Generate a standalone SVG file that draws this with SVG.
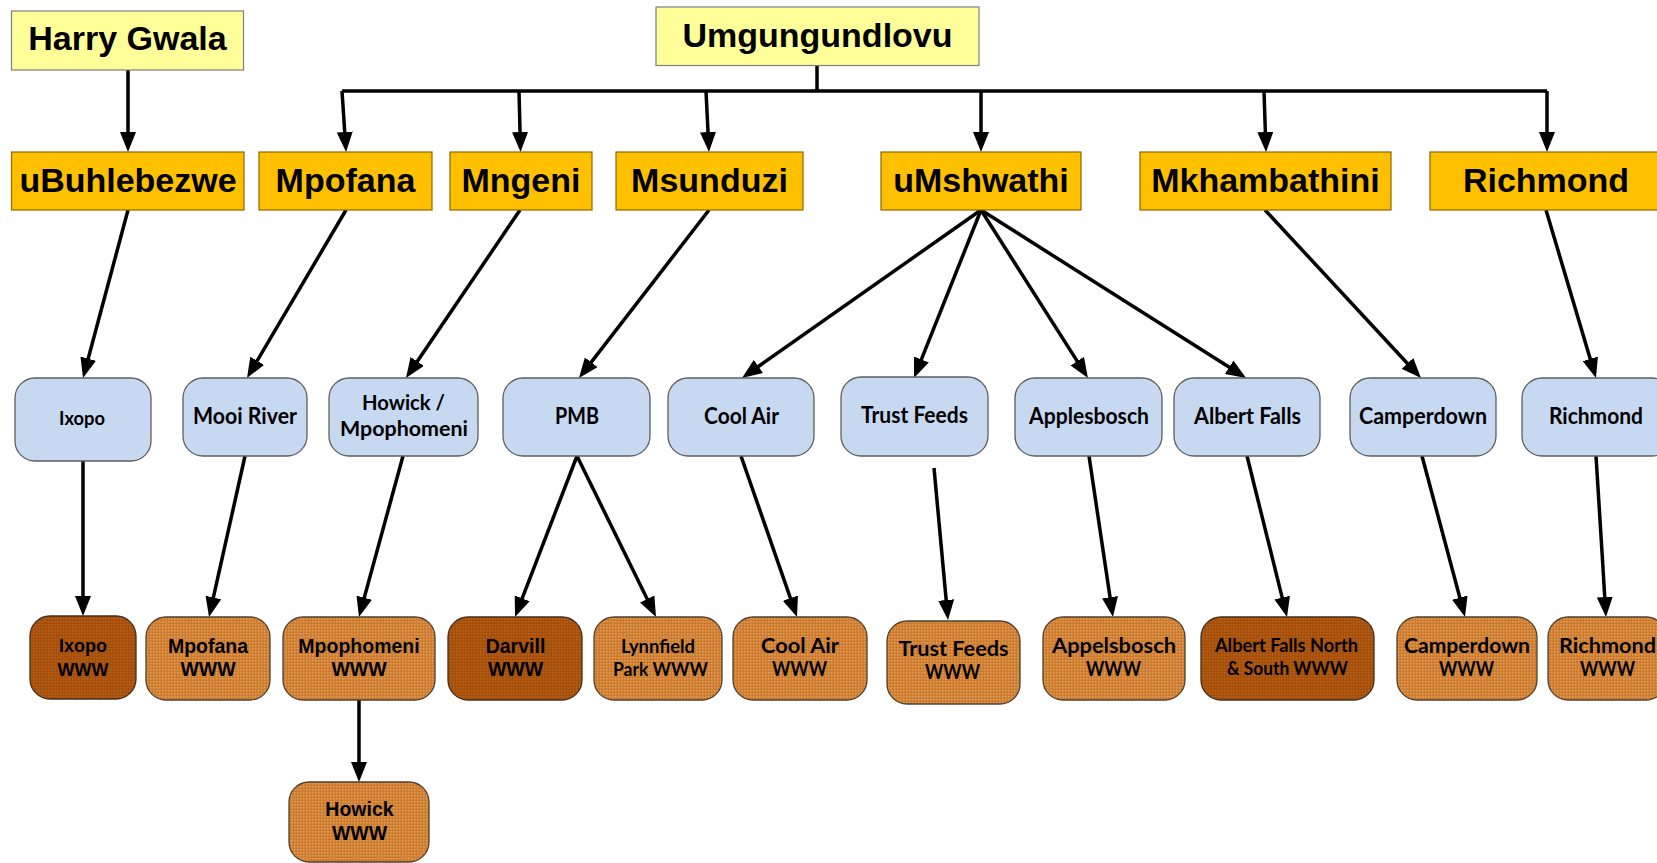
<svg xmlns="http://www.w3.org/2000/svg" width="1657" height="863" viewBox="0 0 1657 863">
<style>
.yl{fill:#FFFF99;stroke:#7F7F7F;stroke-width:1.2}
.or{fill:#FFC000;stroke:#8A6A00;stroke-width:1.2}
.bl{fill:#C6D9F1;stroke:#5F5F5F;stroke-width:1.3}
.lt{fill:url(#pl);stroke:#4F4030;stroke-width:1.3}
.dk{fill:url(#pd);stroke:#3F3020;stroke-width:1.3}
.ar{font-family:"Liberation Sans",Arial,sans-serif;font-weight:bold;fill:#000;text-anchor:middle}
.big{font-size:34px}
.sm{font-size:19.5px}
.ca{font-family:Lato,"Open Sans",sans-serif;font-weight:bold;fill:#000;text-anchor:middle}
.c22{font-size:22px}
.c20{font-size:20px}
.c19{font-size:18.5px}
.cn{fill:none;stroke:#000;stroke-width:3.5;marker-end:url(#ah)}
.bus{fill:none;stroke:#000;stroke-width:3.5}
</style>
<defs>
<pattern id="pl" width="3" height="3" patternUnits="userSpaceOnUse"><rect width="3" height="3" fill="#CC7B2E"/><rect width="1.5" height="1.5" fill="#E3A05C"/></pattern>
<pattern id="pd" width="3" height="3" patternUnits="userSpaceOnUse"><rect width="3" height="3" fill="#A44E0A"/><rect width="1.5" height="1.5" fill="#B8631E"/></pattern>
<marker id="ah" viewBox="0 0 20 16" refX="10" refY="8" markerWidth="20" markerHeight="16" markerUnits="userSpaceOnUse" orient="auto"><path d="M0,0 L20,8 L0,16 z" fill="#000"/></marker>
</defs>
<rect width="1657" height="863" fill="#fff"/>

<g id="connectors">
<line class="cn" x1="128" y1="70" x2="128" y2="142"/>
<polyline class="bus" points="817,65.5 817,91"/>
<polyline class="bus" points="342,91 1547,91"/>
<line class="cn" x1="342" y1="91" x2="345.4" y2="142"/>
<line class="cn" x1="519" y1="91" x2="520.3" y2="142"/>
<line class="cn" x1="706" y1="91" x2="708.5" y2="142"/>
<line class="cn" x1="981" y1="91" x2="981" y2="142"/>
<line class="cn" x1="1264" y1="91" x2="1265.7" y2="142"/>
<line class="cn" x1="1547" y1="91" x2="1547" y2="142"/>

<line class="cn" x1="128" y1="210" x2="85.6" y2="368.3"/>
<line class="cn" x1="346" y1="210" x2="252.1" y2="369.4"/>
<line class="cn" x1="520" y1="210" x2="411.6" y2="369.7"/>
<line class="cn" x1="709" y1="210" x2="585.1" y2="370.1"/>
<line class="cn" x1="981" y1="210" x2="750.2" y2="372.2"/>
<line class="cn" x1="981" y1="210" x2="917.7" y2="368.7"/>
<line class="cn" x1="981" y1="210" x2="1082.6" y2="369.6"/>
<line class="cn" x1="981" y1="210" x2="1237.6" y2="372.6"/>
<line class="cn" x1="1265" y1="210" x2="1414.2" y2="370.7"/>
<line class="cn" x1="1546" y1="210" x2="1593.1" y2="368.4"/>

<line class="cn" x1="83" y1="461" x2="83" y2="606"/>
<line class="cn" x1="245" y1="456" x2="211.2" y2="607.2"/>
<line class="cn" x1="403" y1="456" x2="361.6" y2="607.4"/>
<line class="cn" x1="577" y1="456" x2="518.6" y2="607.7"/>
<line class="cn" x1="577" y1="456" x2="651.6" y2="608"/>
<line class="cn" x1="741" y1="456" x2="793.7" y2="607.6"/>
<line class="cn" x1="934" y1="468" x2="947.1" y2="610"/>
<line class="cn" x1="1089" y1="456" x2="1111.5" y2="607.1"/>
<line class="cn" x1="1247" y1="456" x2="1284.6" y2="607.3"/>
<line class="cn" x1="1422" y1="456" x2="1462.4" y2="607.3"/>
<line class="cn" x1="1596" y1="456" x2="1605.4" y2="607"/>
<line class="cn" x1="359" y1="700" x2="359" y2="772"/>
</g>

<g id="harry-gwala"><rect class="yl" x="11.5" y="11" width="232" height="59"/><text class="ar big" x="127.5" y="50">Harry Gwala</text></g>
<g id="umgungundlovu"><rect class="yl" x="656" y="7" width="323" height="58.5"/><text class="ar big" x="817.5" y="47">Umgungundlovu</text></g>

<g id="ubuhlebezwe"><rect class="or" x="11.5" y="152" width="232.5" height="58"/><text class="ar big" x="128" y="192">uBuhlebezwe</text></g>
<g id="mpofana"><rect class="or" x="259" y="152" width="173" height="58"/><text class="ar big" x="345.5" y="192">Mpofana</text></g>
<g id="mngeni"><rect class="or" x="450" y="152" width="142" height="58"/><text class="ar big" x="521" y="192">Mngeni</text></g>
<g id="msunduzi"><rect class="or" x="616" y="152" width="187" height="58"/><text class="ar big" x="709.5" y="192">Msunduzi</text></g>
<g id="umshwathi"><rect class="or" x="881" y="152" width="200" height="58"/><text class="ar big" x="981" y="192">uMshwathi</text></g>
<g id="mkhambathini"><rect class="or" x="1140" y="152" width="251" height="58"/><text class="ar big" x="1265.5" y="192">Mkhambathini</text></g>
<g id="richmond-lm"><rect class="or" x="1430" y="152" width="234" height="58"/><text class="ar big" x="1546" y="192">Richmond</text></g>

<g id="ixopo"><rect class="bl" x="15" y="378" width="136" height="83" rx="20"/><text class="ca" style="font-size:18.5px" x="82" y="425" textLength="46" lengthAdjust="spacingAndGlyphs">Ixopo</text></g>
<g id="mooi-river"><rect class="bl" x="183" y="378" width="124" height="78" rx="20"/><text class="ca c22" x="245" y="424" textLength="104" lengthAdjust="spacingAndGlyphs">Mooi River</text></g>
<g id="howick-mpophomeni"><rect class="bl" x="329" y="378" width="149" height="78" rx="20"/><text class="ca c20" x="403.5" y="410" textLength="83" lengthAdjust="spacingAndGlyphs">Howick /</text><text class="ca c20" x="404" y="436" textLength="128" lengthAdjust="spacingAndGlyphs">Mpophomeni</text></g>
<g id="pmb"><rect class="bl" x="503" y="378" width="147" height="78" rx="20"/><text class="ca c22" x="577" y="424" textLength="44" lengthAdjust="spacingAndGlyphs">PMB</text></g>
<g id="cool-air"><rect class="bl" x="668" y="378" width="146" height="78" rx="20"/><text class="ca c22" x="741.5" y="424" textLength="75" lengthAdjust="spacingAndGlyphs">Cool Air</text></g>
<g id="trust-feeds"><rect class="bl" x="841" y="377" width="147" height="79" rx="20"/><text class="ca c22" x="914.5" y="423" textLength="107" lengthAdjust="spacingAndGlyphs">Trust Feeds</text></g>
<g id="applesbosch"><rect class="bl" x="1015" y="378" width="147" height="78" rx="20"/><text class="ca c22" x="1089" y="424" textLength="120" lengthAdjust="spacingAndGlyphs">Applesbosch</text></g>
<g id="albert-falls"><rect class="bl" x="1174" y="378" width="146" height="78" rx="20"/><text class="ca c22" x="1247.5" y="424" textLength="107" lengthAdjust="spacingAndGlyphs">Albert Falls</text></g>
<g id="camperdown"><rect class="bl" x="1350" y="378" width="146" height="78" rx="20"/><text class="ca c22" x="1423" y="424" textLength="128" lengthAdjust="spacingAndGlyphs">Camperdown</text></g>
<g id="richmond"><rect class="bl" x="1522" y="378" width="150" height="78" rx="20"/><text class="ca c22" x="1596" y="424" textLength="94" lengthAdjust="spacingAndGlyphs">Richmond</text></g>

<g id="ixopo-www"><rect class="dk" x="30" y="616" width="106" height="83" rx="20"/><text class="ar" style="font-size:18px" x="83" y="652">Ixopo</text><text class="ar" style="font-size:18px" x="83" y="676">WWW</text></g>
<g id="mpofana-www"><rect class="lt" x="146" y="617" width="124" height="83" rx="20"/><text class="ar sm" x="208" y="653">Mpofana</text><text class="ar sm" x="208" y="676">WWW</text></g>
<g id="mpophomeni-www"><rect class="lt" x="283" y="617" width="152" height="83" rx="20"/><text class="ar sm" x="359" y="653">Mpophomeni</text><text class="ar sm" x="359" y="676">WWW</text></g>
<g id="darvill-www"><rect class="dk" x="448" y="617" width="134" height="83" rx="20"/><text class="ar sm" x="515.5" y="653">Darvill</text><text class="ar sm" x="515.5" y="676">WWW</text></g>
<g id="lynnfield-park-www"><rect class="lt" x="594" y="617" width="128" height="83" rx="20"/><text class="ca c19" x="658" y="653" textLength="74" lengthAdjust="spacingAndGlyphs">Lynnfield</text><text class="ca c19" x="660.5" y="676" textLength="95" lengthAdjust="spacingAndGlyphs">Park WWW</text></g>
<g id="cool-air-www"><rect class="lt" x="733" y="617" width="134" height="83" rx="20"/><text class="ca c20" x="800" y="653" textLength="78" lengthAdjust="spacingAndGlyphs">Cool Air</text><text class="ca c20" x="799.5" y="676" textLength="55" lengthAdjust="spacingAndGlyphs">WWW</text></g>
<g id="trust-feeds-www"><rect class="lt" x="887" y="621" width="133" height="83" rx="20"/><text class="ca c20" x="953.5" y="656" textLength="110" lengthAdjust="spacingAndGlyphs">Trust Feeds</text><text class="ca c20" x="952.5" y="679" textLength="55" lengthAdjust="spacingAndGlyphs">WWW</text></g>
<g id="appelsbosch-www"><rect class="lt" x="1043" y="617" width="142" height="83" rx="20"/><text class="ca c20" x="1114" y="653" textLength="124" lengthAdjust="spacingAndGlyphs">Appelsbosch</text><text class="ca c20" x="1113.5" y="676" textLength="55" lengthAdjust="spacingAndGlyphs">WWW</text></g>
<g id="albert-falls-www"><rect class="dk" x="1201" y="617" width="173" height="83" rx="20"/><text class="ca c19" x="1286.5" y="652" textLength="143" lengthAdjust="spacingAndGlyphs">Albert Falls North</text><text class="ca c19" x="1287.5" y="675" textLength="121" lengthAdjust="spacingAndGlyphs">&amp; South WWW</text></g>
<g id="camperdown-www"><rect class="lt" x="1397" y="617" width="140" height="83" rx="20"/><text class="ca c20" x="1467" y="653" textLength="126" lengthAdjust="spacingAndGlyphs">Camperdown</text><text class="ca c20" x="1466.5" y="676" textLength="55" lengthAdjust="spacingAndGlyphs">WWW</text></g>
<g id="richmond-www"><rect class="lt" x="1548" y="617" width="118" height="83" rx="20"/><text class="ca c20" x="1607.5" y="653" textLength="97" lengthAdjust="spacingAndGlyphs">Richmond</text><text class="ca c20" x="1607.5" y="676" textLength="55" lengthAdjust="spacingAndGlyphs">WWW</text></g>
<g id="howick-www"><rect class="lt" x="289" y="782" width="140" height="80" rx="20"/><text class="ar sm" x="359.5" y="816">Howick</text><text class="ar sm" x="359.5" y="840">WWW</text></g>
</svg>
